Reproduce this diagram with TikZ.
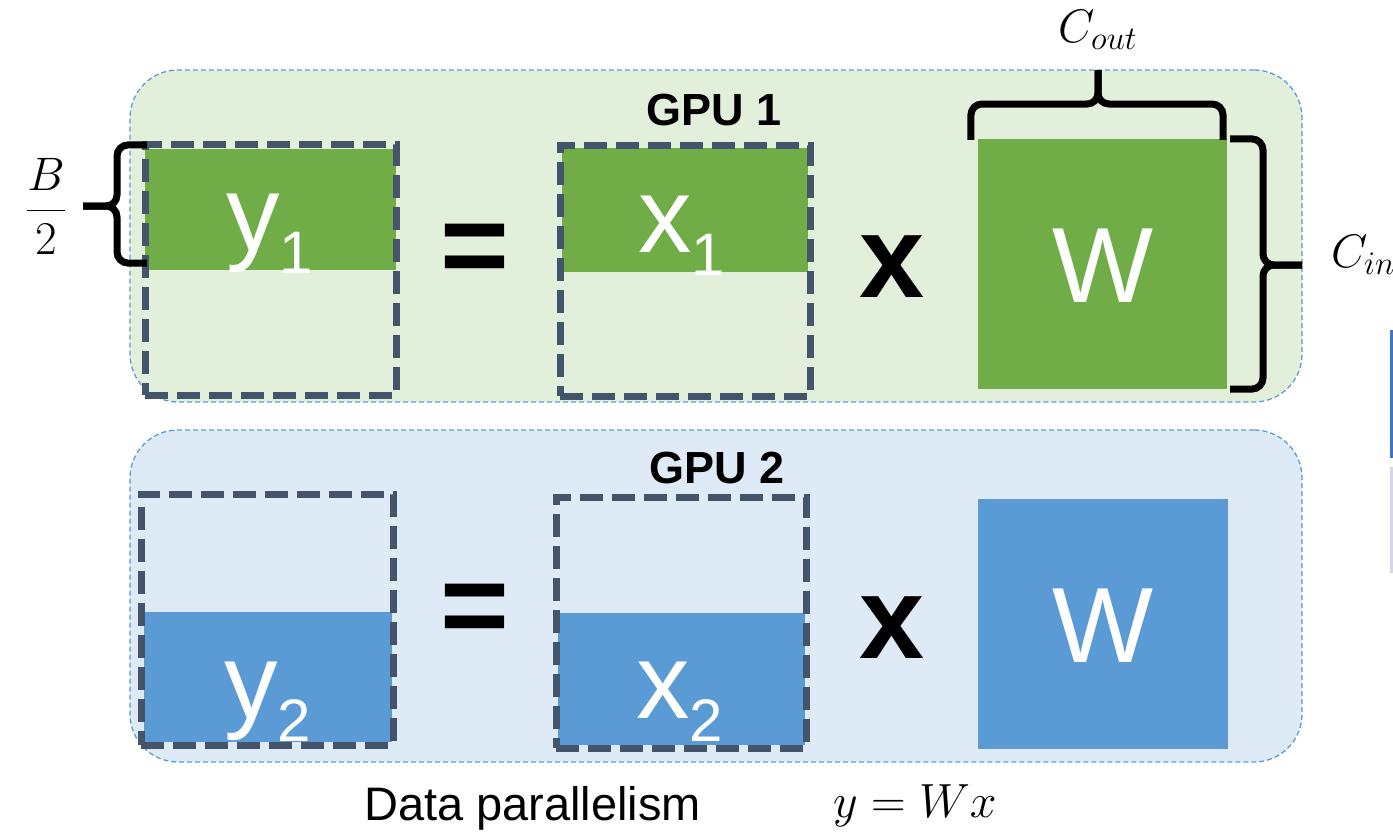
\RequirePackage{fix-cm}
\documentclass[tikz,border=0pt]{standalone}
\usepackage{fontspec}
\newfontfamily\arial{Liberation Sans}

\definecolor{gpuonebg}{HTML}{E2EFDA}
\definecolor{gputwobg}{HTML}{DEEBF7}
\definecolor{panelline}{HTML}{5B9BD5}
\definecolor{blockgreen}{HTML}{70AD47}
\definecolor{blockblue}{HTML}{5B9BD5}
\definecolor{slotline}{HTML}{44546A}
\definecolor{edgeblue}{HTML}{4472C4}
\definecolor{edgegray}{HTML}{D3D7E6}

% matrix label with a lowered subscript, e.g. y_1
\newcommand\mlabel[2]{{\fontsize{107}{107}\selectfont #1}\raisebox{-23pt}{\fontsize{60}{60}\selectfont #2}}

\begin{document}
\begin{tikzpicture}[x=1pt,y=-1pt,
  panel/.style={rectangle, inner sep=0, draw=panelline, line width=1.3pt,
    dash pattern=on 5pt off 3pt, rounded corners=48pt},
  block/.style={rectangle, inner sep=0, draw=none},
  slot/.style={rectangle, inner sep=0, draw=slotline, line width=7pt,
    dash pattern=on 23pt off 9pt},
  gpulabel/.style={inner sep=0, font=\arial\bfseries\fontsize{45}{45}\selectfont},
  opsym/.style={inner sep=0, font=\arial\bfseries\fontsize{118}{118}\selectfont},
  mname/.style={inner sep=0, anchor=base west, text=white, font=\arial},
  wname/.style={inner sep=0, text=white, font=\arial\fontsize{107}{107}\selectfont},
  bracehalf/.style={draw=black, line width=7pt, rounded corners=11pt},
  mathlabel/.style={inner sep=0, font=\fontsize{47}{50}\selectfont},
]
\useasboundingbox (0,0) rectangle (1393,833);

% GPU panels
\node[panel, fill=gpuonebg, minimum width=1172pt, minimum height=332pt] (gpu1) at (716,236) {};
\node[panel, fill=gputwobg, minimum width=1172pt, minimum height=332pt] (gpu2) at (716,596) {};

\node[gpulabel] (gpu1label) at (714,110) {GPU 1};
\node[gpulabel] (gpu2label) at (717,468) {GPU 2};

% GPU 1: filled halves and weight matrix
\node[block, fill=blockgreen, minimum width=251pt, minimum height=121pt] (y1fill) at (270.5,209.5) {};
\node[block, fill=blockgreen, minimum width=246pt, minimum height=124pt] (x1fill) at (685,210) {};
\node[block, fill=blockgreen, minimum width=249pt, minimum height=250pt] (w1) at (1102.5,264) {};

% GPU 2: filled halves and weight matrix
\node[block, fill=blockblue, minimum width=248pt, minimum height=130pt] (y2fill) at (268,677) {};
\node[block, fill=blockblue, minimum width=247pt, minimum height=132pt] (x2fill) at (681.5,679) {};
\node[block, fill=blockblue, minimum width=250pt, minimum height=250pt] (w2) at (1103,624) {};

% full batch outlines
\node[slot, minimum width=251pt, minimum height=251pt] (y1slot) at (270.5,269.5) {};
\node[slot, minimum width=250pt, minimum height=251pt] (x1slot) at (685,270.5) {};
\node[slot, minimum width=252pt, minimum height=251pt] (y2slot) at (267,619.5) {};
\node[slot, minimum width=250pt, minimum height=251pt] (x2slot) at (681,622.5) {};

% matrix names
\node[mname] (y1name) at (226,250) {\mlabel{y}{1}};
\node[mname] (x1name) at (638,252) {\mlabel{x}{1}};
\node[mname] (y2name) at (224,718) {\mlabel{y}{2}};
\node[mname] (x2name) at (636,718) {\mlabel{x}{2}};
\node[wname] (w1name) at (1102.5,266) {W};
\node[wname] (w2name) at (1103,626) {W};

% operators
\node[opsym] (eq1) at (475,255) {=};
\node[opsym] (eq2) at (475,615) {=};
\node[opsym, font=\arial\bfseries\fontsize{117}{117}\selectfont] (mul1) at (892,266.5) {x};
\node[opsym, font=\arial\bfseries\fontsize{117}{117}\selectfont] (mul2) at (892,628) {x};

% brace ends and tips, taken from the blocks they measure
\coordinate (bTop) at ([shift={(2,-4)}]y1fill.north west);
\coordinate (bBot) at ([shift={(2,-7)}]y1fill.south west);
\coordinate (bTip) at (83,206);
\coordinate (oL) at ([shift={(-7,1)}]w1.north west);
\coordinate (oR) at ([shift={(-4,1)}]w1.north east);
\coordinate (oTip) at (1098,70);
\coordinate (iTop) at ([xshift=3pt]w1.north east);
\coordinate (iBot) at ([xshift=3pt]w1.south east);
\coordinate (iTip) at (1302,265);

% B/2 brace (spine at x = 117)
\draw[bracehalf] (bTop) -- (117,145) -- (117,206) -- (bTip);
\draw[bracehalf] (bBot) -- (117,263) -- (117,206) -- (bTip);
% C_out brace (spine at y = 104)
\draw[bracehalf] (oL) -- (971,104) -- (1098,104) -- (oTip);
\draw[bracehalf] (oR) -- (1223,104) -- (1098,104) -- (oTip);
% C_in brace (spine at x = 1263)
\draw[bracehalf] (iTop) -- (1263,139) -- (1263,265) -- (iTip);
\draw[bracehalf] (iBot) -- (1263,389) -- (1263,265) -- (iTip);

\node[mathlabel] (bhalf) at (46,206) {$\displaystyle\frac{B}{2}$};
\node[mathlabel, anchor=base west] (cout) at (1058,42) {$C_{out}$};
\node[mathlabel, anchor=base west] (cin) at (1331,267) {$C_{in}$};

% captions
\node[inner sep=0, anchor=base west, font=\arial\fontsize{47}{47}\selectfont] (caption) at (364,820) {Data parallelism};
\node[inner sep=0, anchor=base west, font=\fontsize{48}{50}\selectfont] (formula) at (833,817) {$y=Wx$};

% marks at the right edge
\fill[edgeblue] (1389.5,330) rectangle (1392.5,458);
\fill[edgegray] (1389.5,467) rectangle (1392.5,573);
\end{tikzpicture}
\end{document}
